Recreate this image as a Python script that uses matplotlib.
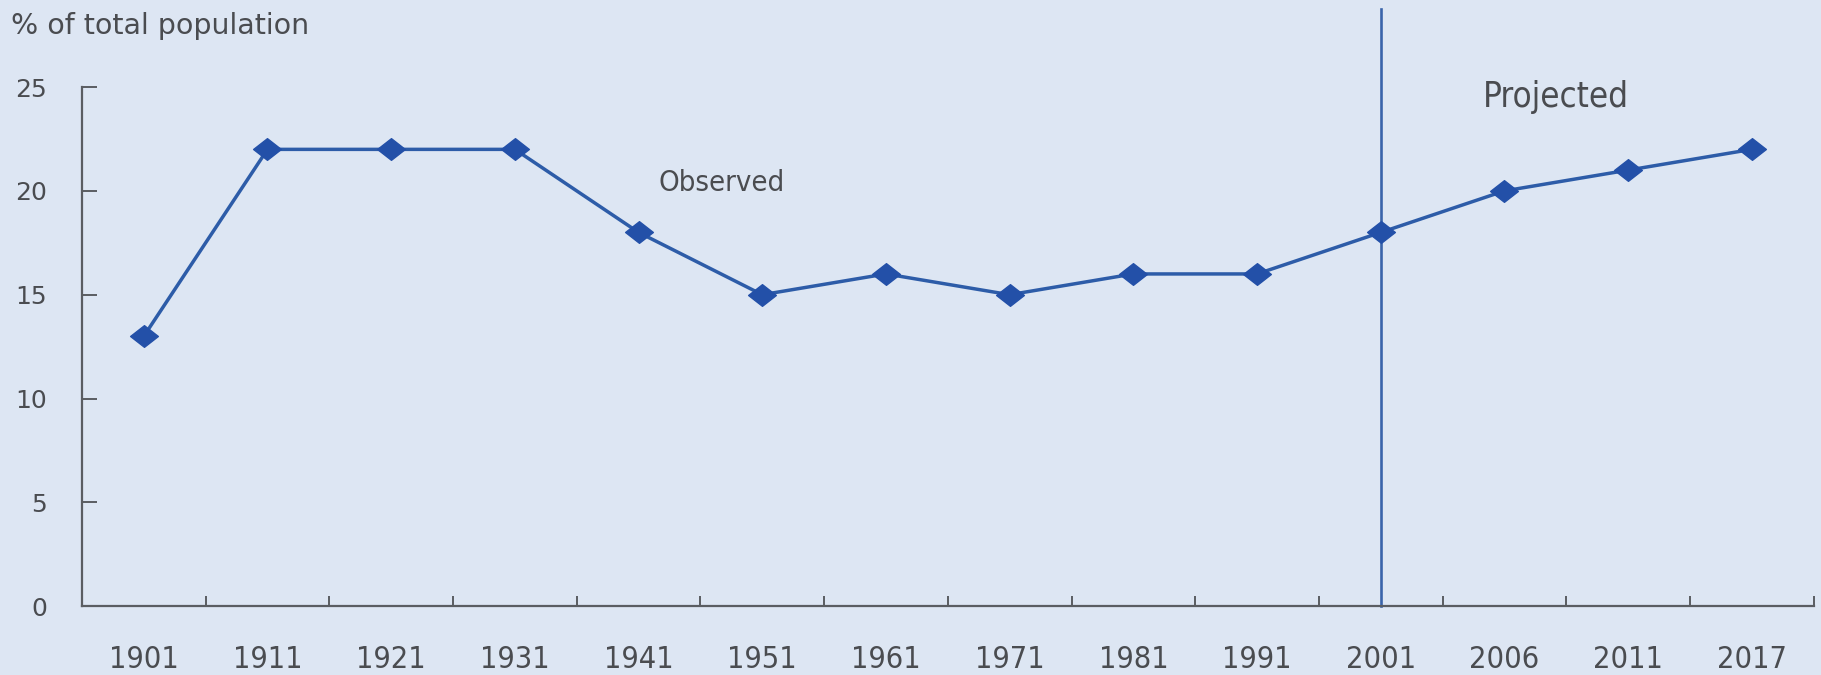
import matplotlib
matplotlib.use('Agg')
import matplotlib.pyplot as plt
from matplotlib.path import Path
import numpy as np

# data
years = ['1901', '1911', '1921', '1931', '1941', '1951', '1961',
         '1971', '1981', '1991', '2001', '2006', '2011', '2017']
share = [13, 22, 22, 22, 18, 15, 16, 15, 16, 16, 18, 20, 21, 22]
y_ticks = [0, 5, 10, 15, 20, 25]
split_year = '2001'

bg = '#dde6f3'
line_col = '#2d5ca8'
marker_col = '#2350a8'
axis_col = '#5a5d62'
text_col = '#4a4c50'

plt.rcParams['font.family'] = ['DejaVu Sans']

# wide flat diamond
diamond = Path([(-1, 0), (0, 0.78), (1, 0), (0, -0.78), (-1, 0)],
               [Path.MOVETO, Path.LINETO, Path.LINETO, Path.LINETO, Path.CLOSEPOLY])

fig = plt.figure(figsize=(18.21, 6.75), dpi=100, facecolor=bg)
ax = fig.add_axes([0.045, 0.102, 0.951, 0.769])
ax.set_facecolor(bg)

x = np.arange(len(years))
ax.plot(x, share, color=line_col, lw=2.5, marker=diamond, markersize=20,
        markerfacecolor=marker_col, markeredgecolor=marker_col, zorder=3)

# observed / projected split
xs = years.index(split_year)
ax.axvline(xs, ymin=0, ymax=1.15, color='#3a64aa', lw=1.9, clip_on=False, zorder=2)

ax.set_xlim(-0.5, len(years) - 0.5)
ax.set_ylim(0, 25)

for s in ['top', 'right']:
    ax.spines[s].set_visible(False)
for s in ['left', 'bottom']:
    ax.spines[s].set_color(axis_col)
    ax.spines[s].set_linewidth(1.6)

ax.set_yticks(y_ticks)
ax.tick_params(axis='y', direction='in', length=11, width=1.4, color=axis_col,
               labelsize=18, labelcolor=text_col, pad=25)

ax.set_xticks(x)
ax.set_xticklabels(years, fontstretch='condensed')
ax.tick_params(axis='x', which='major', length=0, labelsize=22,
               labelcolor=text_col, pad=28)
ax.set_xticks(np.arange(0.5, len(years)), minor=True)
ax.tick_params(axis='x', which='minor', direction='in', length=7, width=1.4,
               color=axis_col)

fig.text(0.006, 0.962, '% of total population', fontsize=20.5, color=text_col,
         va='center', ha='left')
ax.text(4.67, 20.4, 'Observed', fontsize=21, color=text_col, ha='center',
        va='center', fontstretch='condensed')
ax.text(11.42, 24.5, 'Projected', fontsize=25, color=text_col, ha='center',
        va='center', fontstretch='condensed')

fig.savefig('out.png', dpi=100, facecolor=bg)
